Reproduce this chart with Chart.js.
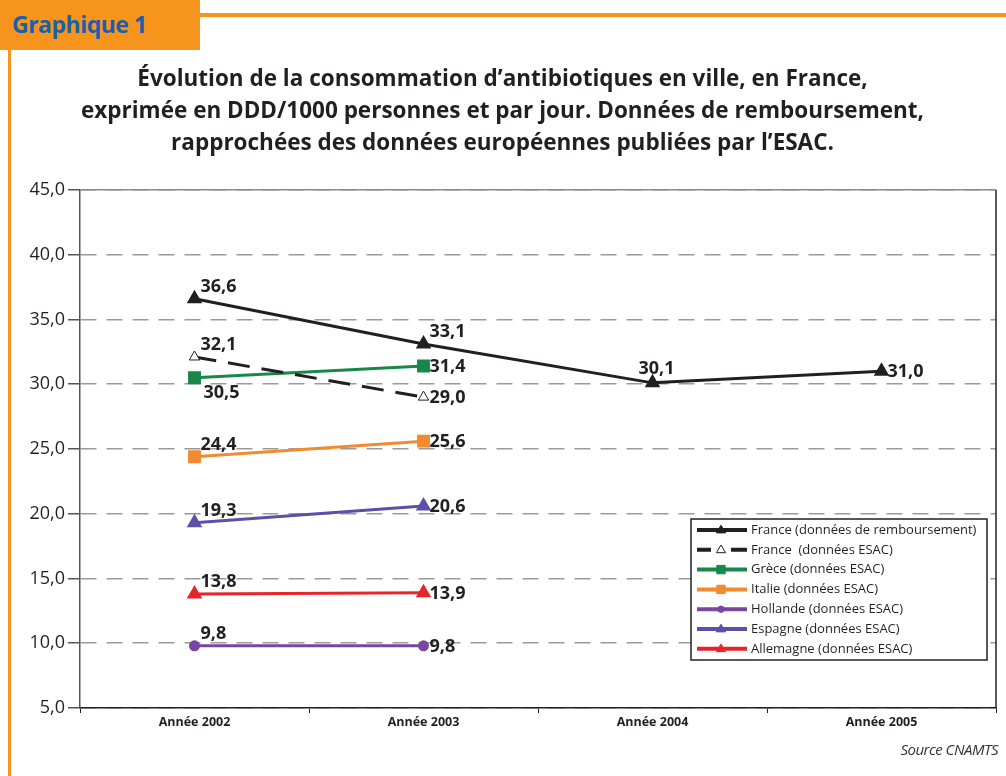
<!DOCTYPE html>
<html>
<head>
<meta charset="utf-8">
<script src="https://cdn.jsdelivr.net/npm/chart.js@4.4.1/dist/chart.umd.min.js"></script>
<style>
  html, body { margin: 0; padding: 0; background: #fff; }
  #wrap { position: relative; width: 1006px; height: 776px; overflow: hidden; }
  #myChart { position: absolute; left: 0; top: 0; }
  .hdr { position: absolute; left: 0; top: 0; width: 200px; height: 50px; background: #f7941d; }
  .hdr span { position: absolute; left: 12px; top: 8px; font: bold 23px "Open Sans", sans-serif; color: #1b5faa; letter-spacing: -0.5px; }
  .hline { position: absolute; left: 200px; top: 13px; width: 806px; height: 4px; background: #f7941d; }
  .vline { position: absolute; left: 8px; top: 50px; width: 3px; height: 726px; background: #f7941d; }
  .src { position: absolute; right: 8px; top: 739px; font: italic 15px "Open Sans", sans-serif; color: #333; letter-spacing: -0.5px; }
</style>
</head>
<body>
<div id="wrap">
  <canvas id="myChart" width="1006" height="776"></canvas>
  <div class="hdr"><span>Graphique 1</span></div>
  <div class="hline"></div>
  <div class="vline"></div>
  <div class="src">Source CNAMTS</div>
</div>
<script>
const years = ['Année 2002', 'Année 2003', 'Année 2004', 'Année 2005'];
const franceRemb = [36.6, 33.1, 30.1, 31.0];
const franceEsac = [32.1, 29.0, null, null];
const grece = [30.5, 31.4, null, null];
const italie = [24.4, 25.6, null, null];
const hollande = [9.8, 9.8, null, null];
const espagne = [19.3, 20.6, null, null];
const allemagne = [13.8, 13.9, null, null];

const titleLines = [
  'Évolution de la consommation d\u2019antibiotiques en ville, en France,',
  'exprimée en DDD/1000 personnes et par jour. Données de remboursement,',
  'rapprochées des données européennes publiées par l\u2019ESAC.'
];

// where each value label sits relative to its point
const labelPlace = {
  'France (données de remboursement)': ['ar', 'ar', 'a', 'r'],
  'France  (données ESAC)': ['ar', 'r'],
  'Grèce (données ESAC)': ['br', 'r'],
  'Italie (données ESAC)': ['ar', 'r'],
  'Hollande (données ESAC)': ['ar', 'r'],
  'Espagne (données ESAC)': ['ar', 'r'],
  'Allemagne (données ESAC)': ['ar', 'r']
};

function ds(label, data, color, style, radius, extra) {
  return Object.assign({
    label: label,
    data: data,
    borderColor: color,
    backgroundColor: color,
    pointBackgroundColor: color,
    pointBorderColor: color,
    pointStyle: style,
    pointRadius: radius,
    pointHoverRadius: radius,
    borderWidth: 3,
    tension: 0,
    spanGaps: false
  }, extra || {});
}

const valueLabels = {
  id: 'valueLabels',
  afterDatasetsDraw(chart) {
    const c = chart.ctx;
    c.save();
    c.font = 'bold 18px "Open Sans", sans-serif';
    c.fillStyle = '#231f20';
    c.textBaseline = 'middle';
    c.textAlign = 'left';
    chart.data.datasets.forEach((d, i) => {
      const meta = chart.getDatasetMeta(i);
      const place = labelPlace[d.label] || [];
      meta.data.forEach((pt, j) => {
        const v = d.data[j];
        if (v === null || v === undefined) return;
        const txt = v.toFixed(1).replace('.', ',');
        let x = pt.x, y = pt.y;
        const p = place[j] || 'ar';
        if (p === 'ar') { x += 6; y -= 12; }
        else if (p === 'r') { x += 6; y += 1; }
        else if (p === 'br') { x += 9; y += 15; }
        else if (p === 'a') { x -= 14; y -= 14; }
        c.fillText(txt, x, y);
      });
    });
    c.restore();
  }
};

function drawMarker(c, style, x, y, r) {
  if (style === 'triangle') {
    c.moveTo(x, y - r);
    c.lineTo(x + r * 0.95, y + r * 0.6);
    c.lineTo(x - r * 0.95, y + r * 0.6);
    c.closePath();
  } else if (style === 'rect') {
    c.rect(x - r * 0.75, y - r * 0.75, r * 1.5, r * 1.5);
  } else {
    c.arc(x, y, r, 0, Math.PI * 2);
  }
}

const boxLegend = {
  id: 'boxLegend',
  afterDraw(chart) {
    const c = chart.ctx;
    const a = chart.chartArea;
    const x0 = a.right - 305, y0 = a.bottom - 189, w = 296, h = 141;
    c.save();
    c.fillStyle = '#fff';
    c.fillRect(x0, y0, w, h);
    c.strokeStyle = '#231f20';
    c.lineWidth = 1.5;
    c.strokeRect(x0, y0, w, h);
    c.font = '13px "Open Sans", sans-serif';
    c.textBaseline = 'middle';
    chart.data.datasets.forEach((d, i) => {
      const y = y0 + 11 + i * 19.8;
      c.strokeStyle = d.borderColor;
      c.lineWidth = 4;
      c.beginPath();
      if (d.borderDash) {
        c.moveTo(x0 + 6, y); c.lineTo(x0 + 20, y);
        c.moveTo(x0 + 40, y); c.lineTo(x0 + 56, y);
      } else {
        c.moveTo(x0 + 6, y); c.lineTo(x0 + 56, y);
      }
      c.stroke();
      c.fillStyle = d.pointBackgroundColor;
      c.strokeStyle = d.pointBorderColor;
      c.lineWidth = 1;
      c.beginPath();
      drawMarker(c, d.pointStyle, x0 + 30, y, d.pointRadius * 0.8);
      c.fill();
      c.stroke();
      c.fillStyle = '#231f20';
      c.fillText(d.label, x0 + 60, y);
    });
    c.restore();
  }
};

const frame = {
  id: 'frame',
  beforeDraw(chart) {
    const c = chart.ctx;
    c.save();
    c.fillStyle = '#fff';
    c.fillRect(0, 0, chart.width, chart.height);
    c.restore();
  },
  afterDatasetsDraw(chart) {
    const c = chart.ctx;
    const a = chart.chartArea;
    c.save();
    c.strokeStyle = '#231f20';
    c.lineWidth = 1.5;
    c.beginPath();
    c.moveTo(a.right, a.top); c.lineTo(a.right, a.bottom);
    c.stroke();
    c.strokeStyle = '#8a8a8a';
    c.beginPath();
    c.moveTo(a.left, a.top); c.lineTo(a.right, a.top);
    c.stroke();
    c.restore();
  }
};

const ctx = document.getElementById('myChart').getContext('2d');
const myChart = new Chart(ctx, {
  type: 'line',
  data: {
    labels: years,
    datasets: [
      ds('France (données de remboursement)', franceRemb, '#231f20', 'triangle', 6),
      ds('France  (données ESAC)', franceEsac, '#231f20', 'triangle', 6, {
        borderDash: [22, 12], pointBackgroundColor: '#fff', pointBorderColor: '#231f20', pointBorderWidth: 1
      }),
      ds('Grèce (données ESAC)', grece, '#17884a', 'rect', 7),
      ds('Italie (données ESAC)', italie, '#f28a30', 'rect', 7),
      ds('Hollande (données ESAC)', hollande, '#7b45a0', 'circle', 4),
      ds('Espagne (données ESAC)', espagne, '#5b50a8', 'triangle', 6),
      ds('Allemagne (données ESAC)', allemagne, '#e6252b', 'triangle', 6)
    ]
  },
  plugins: [frame, valueLabels, boxLegend],
  options: {
    responsive: false,
    animation: false,
    layout: {
      padding: { left: 0, right: 1, top: 64, bottom: 40 }
    },
    plugins: {
      legend: { display: false },
      tooltip: { enabled: false },
      title: {
        display: true,
        text: titleLines,
        color: '#231f20',
        font: { family: '"Open Sans", sans-serif', size: 22.5, weight: 'bold', lineHeight: 1.42 },
        padding: { top: 0, bottom: 30 }
      }
    },
    scales: {
      x: {
        offset: true,
        grid: {
          display: true,
          offset: true,
          drawOnChartArea: false,
          drawTicks: true,
          tickLength: 5,
          color: '#231f20'
        },
        border: { color: '#231f20', width: 1.5 },
        ticks: {
          color: '#231f20',
          font: { family: '"Open Sans", sans-serif', size: 12.5, weight: 'bold' },
          padding: 2
        },
        afterFit(scale) { scale.height = 28; }
      },
      y: {
        min: 5,
        max: 45,
        ticks: {
          stepSize: 5,
          color: '#231f20',
          font: { family: '"Open Sans", sans-serif', size: 18 },
          padding: 3,
          callback: v => v.toFixed(1).replace('.', ',')
        },
        grid: {
          color: '#9a9a9a',
          lineWidth: 1.5,
          tickLength: 12,
          tickColor: '#555',
          tickBorderDash: [],
          drawTicks: true
        },
        border: { color: '#555', width: 1.5, dash: [16, 10] },
        afterFit(scale) { scale.width = 80; }
      }
    }
  }
});
</script>
</body>
</html>
